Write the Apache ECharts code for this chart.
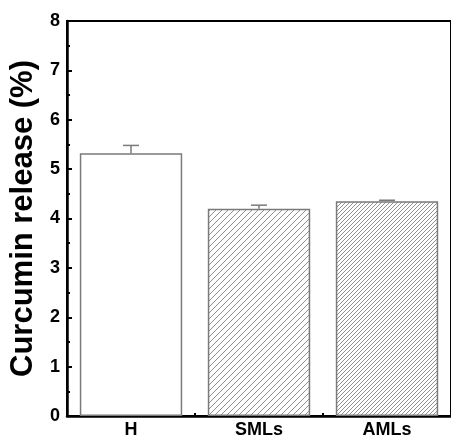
<!DOCTYPE html>
<html>
<head>
<meta charset="utf-8">
<script src="https://cdn.jsdelivr.net/npm/echarts@6/dist/echarts.min.js"></script>
<style>html,body{margin:0;padding:0;background:#fff;}#c{width:451px;height:439px;}</style>
</head>
<body>
<div id="c"></div>
<script>
var categories = ['H', 'SMLs', 'AMLs'];
var releaseValues = [5.32, 4.20, 4.35];
var errorPlus = [0.16, 0.07, 0.02];
var yTicks = [0, 1, 2, 3, 4, 5, 6, 7, 8];

function hatch(step, color) {
  var c = document.createElement('canvas');
  c.width = step; c.height = step;
  var g = c.getContext('2d');
  g.fillStyle = '#fff'; g.fillRect(0, 0, step, step);
  g.strokeStyle = color; g.lineWidth = 1;
  g.beginPath();
  g.moveTo(-1, step + 1); g.lineTo(step + 1, -1);
  g.moveTo(-1, 1); g.lineTo(1, -1);
  g.moveTo(step - 1, step + 1); g.lineTo(step + 1, step - 1);
  g.stroke();
  return c;
}
var fills = [
  '#ffffff',
  { image: hatch(6, '#8f8f8f'), repeat: 'repeat' },
  { image: hatch(4, '#8f8f8f'), repeat: 'repeat' }
];

var chart = echarts.init(document.getElementById('c'), null, { renderer: 'canvas' });
chart.setOption({
  animation: false,
  grid: { left: 67, top: 21, width: 390, height: 395, show: true, borderColor: '#000', borderWidth: 2, backgroundColor: 'transparent' },
  xAxis: [{
    type: 'category', data: categories,
    axisLine: { lineStyle: { color: '#000', width: 2.5 } },
    axisTick: { inside: true, alignWithLabel: true, length: 4, lineStyle: { color: '#000', width: 2 } },
    axisLabel: { color: '#000', fontWeight: 'bold', fontSize: 18, fontFamily: 'Liberation Sans, Arial', margin: 5 }
  }, {
    type: 'value', min: 0, max: 3, interval: 1, position: 'bottom',
    axisLine: { show: false }, axisLabel: { show: false }, splitLine: { show: false },
    axisTick: { inside: true, length: 3, lineStyle: { color: '#000', width: 2 } }
  }],
  yAxis: {
    type: 'value', min: 0, max: 8, interval: 1,
    name: 'Curcumin release (%)', nameLocation: 'middle', nameGap: 24,
    nameTextStyle: { color: '#000', fontWeight: 'bold', fontSize: 31, fontFamily: 'Liberation Sans, Arial' },
    axisLine: { show: true, lineStyle: { color: '#000', width: 2.5 } },
    axisTick: { inside: true, length: 5, lineStyle: { color: '#000', width: 2 } },
    minorTick: { show: true, splitNumber: 2, length: 3, lineStyle: { color: '#000', width: 2 } },
    splitLine: { show: false },
    axisLabel: { color: '#000', fontWeight: 'bold', fontSize: 18, fontFamily: 'Liberation Sans, Arial', margin: 7 }
  },
  series: [{
    type: 'bar', xAxisIndex: 0, barWidth: '80%',
    data: releaseValues.map(function (v, i) {
      return { value: v, itemStyle: { color: fills[i], borderColor: '#7a7a7a', borderWidth: 1.5 } };
    })
  }, {
    type: 'custom', xAxisIndex: 0, z: 5,
    data: releaseValues.map(function (v, i) { return [i, v, v + errorPlus[i]]; }),
    renderItem: function (params, api) {
      var base = api.coord([api.value(0), api.value(1)]);
      var top = api.coord([api.value(0), api.value(2)]);
      var w = 8;
      return {
        type: 'group',
        children: [
          { type: 'line', shape: { x1: base[0], y1: base[1], x2: top[0], y2: top[1] }, style: { stroke: '#7a7a7a', lineWidth: 1.5 } },
          { type: 'line', shape: { x1: top[0] - w, y1: top[1], x2: top[0] + w, y2: top[1] }, style: { stroke: '#7a7a7a', lineWidth: 1.5 } }
        ]
      };
    }
  }]
});
</script>
</body>
</html>
